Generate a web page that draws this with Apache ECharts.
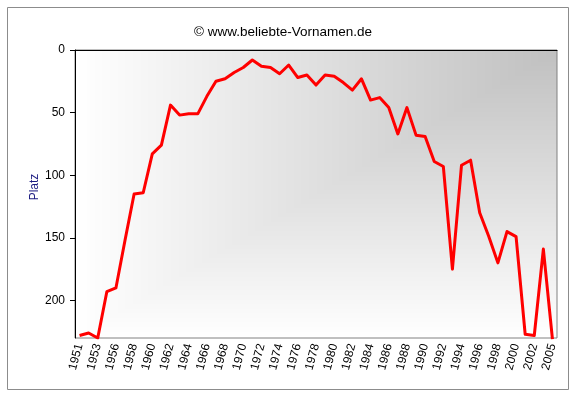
<!DOCTYPE html>
<html><head><meta charset="utf-8">
<script src="https://cdn.jsdelivr.net/npm/echarts@6/dist/echarts.min.js"></script>
<style>html,body{margin:0;padding:0;background:#fff}#c{width:576px;height:396px}</style>
</head><body><div id="c"></div>
<script>
// ---- data ----
const years = ['1951','1952','1953','1955','1956','1957','1958','1959','1960','1961','1962','1963','1964','1965','1966','1967','1968','1969','1970','1971','1972','1973','1974','1975','1976','1977','1978','1979','1980','1981','1982','1983','1984','1985','1986','1987','1988','1989','1990','1991','1992','1993','1994','1995','1996','1997','1998','1999','2000','2001','2002','2003','2005'];
const ranks = [228,226,230,193,190,152,115,114,83,76,44,52,51,51,37,25,23,18,14,8,13,14,19,12,22,20,28,20,21,26,32,23,40,38,46,67,46,68,69,89,93,175,92,88,130,149,170,145,149,227,228,159,231];
const yTicks = [0,50,100,150,200];
const titleText = '\u00A9 www.beliebte-Vornamen.de';
const yName = 'Platz';

// ---- layout ----
const W = 576, H = 396;
const GL = 75, GT = 50, GR = 557, GB = 338;
const FONT = '"Liberation Sans", Arial, sans-serif';

function makeBg() {
  const cv = document.createElement('canvas');
  cv.width = W; cv.height = H;
  const ctx = cv.getContext('2d');
  const img = ctx.createImageData(W, H);
  for (let y = 0; y < H; y++) {
    for (let x = 0; x < W; x++) {
      const u = Math.min(1, Math.max(0, (GR - x) / (GR - GL)));
      const v = Math.min(1, Math.max(0, (y - GT) / (GB - GT)));
      const t = Math.max(u, v);
      const c = Math.round(192 + 63 * t);
      const i = (y * W + x) * 4;
      img.data[i] = c; img.data[i + 1] = c; img.data[i + 2] = c; img.data[i + 3] = 255;
    }
  }
  ctx.putImageData(img, 0, 0);
  return cv;
}

const chart = echarts.init(document.getElementById('c'), null, {renderer: 'canvas'});
chart.setOption({
  animation: false,
  backgroundColor: '#ffffff',
  title: {
    text: titleText, left: 278, top: 20, textAlign: 'center',
    textStyle: {fontSize: 13.5, fontWeight: 'normal', color: '#000', fontFamily: FONT}
  },
  graphic: [{
    type: 'rect', shape: {x: 7.5, y: 7.5, width: 561, height: 382},
    style: {fill: 'none', stroke: '#8c8c8c', lineWidth: 1}, z: 100, silent: true
  }],
  grid: {
    left: GL, top: GT, right: W - GR, bottom: H - GB,
    show: true, borderColor: '#808080', borderWidth: 1,
    backgroundColor: {image: makeBg(), repeat: 'no-repeat'}
  },
  xAxis: [{
    type: 'category', data: years, boundaryGap: true, position: 'bottom',
    axisLine: {show: false}, axisTick: {show: false}, splitLine: {show: false},
    axisLabel: {interval: 1, rotate: 75, margin: 6, fontSize: 12, color: '#000', fontFamily: FONT}
  }, {
    type: 'category', data: years, boundaryGap: true, position: 'top',
    axisLine: {show: true, lineStyle: {color: '#000', width: 1}},
    axisTick: {show: false}, axisLabel: {show: false}, splitLine: {show: false}
  }],
  yAxis: {
    type: 'value', inverse: true, min: 0, max: 230, interval: 50,
    name: yName, nameLocation: 'middle', nameGap: 34, nameRotate: 90, nameMoveOverlap: false,
    nameTextStyle: {color: '#1a1a80', fontSize: 12, fontFamily: FONT, padding: [0, 0, 0, 14]},
    axisLine: {show: true, lineStyle: {color: '#000', width: 1}},
    axisTick: {show: true, inside: false, length: 5, customValues: yTicks, lineStyle: {color: '#000'}},
    axisLabel: {customValues: yTicks, margin: 10, fontSize: 12, color: '#000', fontFamily: FONT},
    splitLine: {show: false}
  },
  series: [{
    type: 'line', data: ranks, xAxisIndex: 0, symbol: 'none', showSymbol: false,
    clip: true, z: 3,
    lineStyle: {color: '#ff0000', width: 3, join: 'round'}
  }]
});
</script>
</body></html>
